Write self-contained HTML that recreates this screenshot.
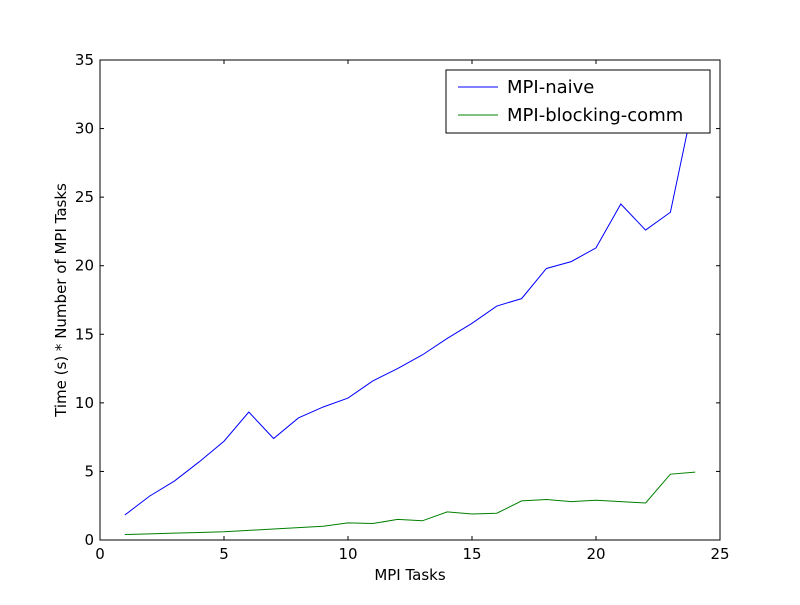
<!DOCTYPE html>
<html><head><meta charset="utf-8"><style>
body{margin:0;background:#fff;}
svg text{font-family:"DejaVu Sans","Liberation Sans",sans-serif;}
</style></head><body>
<svg id="chart" width="800" height="600" xmlns="http://www.w3.org/2000/svg">
<rect width="800" height="600" fill="#fff"/>
<g id="plot"></g>
</svg>
<script>
const xValues=[1,2,3,4,5,6,7,8,9,10,11,12,13,14,15,16,17,18,19,20,21,22,23,24];
const naiveValues=[1.82,3.2,4.3,5.7,7.2,9.33,7.4,8.9,9.7,10.35,11.6,12.5,13.5,14.7,15.8,17.06,17.6,19.8,20.3,21.3,24.5,22.6,23.9,32.5];
const blockingValues=[0.4,0.45,0.5,0.55,0.6,0.7,0.8,0.9,1.0,1.25,1.2,1.5,1.4,2.05,1.9,1.95,2.85,2.95,2.8,2.9,2.8,2.7,4.8,4.95];
const xTicks=[0,5,10,15,20,25];
const yTicks=[0,5,10,15,20,25,30,35];
const L=100,R=720,T=60,B=540;
const xs=v=>L+(v-0)/25*(R-L);
const ys=v=>B-(v-0)/35*(B-T);
const NS="http://www.w3.org/2000/svg";
const g=document.getElementById('plot');
function mk(tag,attrs,parent){const e=document.createElementNS(NS,tag);for(const k in attrs)e.setAttribute(k,attrs[k]);(parent||g).appendChild(e);return e;}
const defs=mk('defs',{});
const cp=mk('clipPath',{id:'clip'},defs);mk('rect',{x:L,y:T,width:R-L,height:B-T},cp);
function series(vals,color,name){
  const p=mk('polyline',{points:xValues.map((x,i)=>xs(x)+','+ys(vals[i])).join(' '),fill:'none',stroke:color,'stroke-width':1,'clip-path':'url(#clip)'});
  
  
}
series(naiveValues,'#0000ff','mpi-naive-line');
series(blockingValues,'#008000','mpi-blocking-comm-line');
const frame=mk('rect',{x:L,y:T,width:R-L,height:B-T,fill:'none',stroke:'#000','stroke-width':1});


xTicks.forEach(t=>{
  const x=xs(t);
  mk('line',{x1:x,y1:B,x2:x,y2:B-4,stroke:'#000'});
  mk('line',{x1:x,y1:T,x2:x,y2:T+4,stroke:'#000'});
  const tx=mk('text',{x:x,y:B+19,'text-anchor':'middle','font-size':15});tx.textContent=t;
  
  
});
yTicks.forEach(t=>{
  const y=ys(t);
  mk('line',{x1:L,y1:y,x2:L+4,y2:y,stroke:'#000'});
  mk('line',{x1:R,y1:y,x2:R-4,y2:y,stroke:'#000'});
  const tx=mk('text',{x:L-6,y:y+5,'text-anchor':'end','font-size':15});tx.textContent=t;
  
  
});
const xt=mk('text',{x:(L+R)/2,y:580,'text-anchor':'middle','font-size':15});xt.textContent='MPI Tasks';


const yt=mk('text',{x:66,y:300,'text-anchor':'middle','font-size':15,transform:'rotate(-90 66 300)'});yt.textContent='Time (s) * Number of MPI Tasks';


const lg=mk('g',{});


mk('rect',{x:446,y:70,width:264,height:63,fill:'#fff',stroke:'#000'},lg);
mk('line',{x1:458,y1:87,x2:498,y2:87,stroke:'#0000ff'},lg);
const l1=mk('text',{x:507,y:93,'font-size':18},lg);l1.textContent='MPI-naive';


mk('line',{x1:458,y1:115,x2:498,y2:115,stroke:'#008000'},lg);
const l2=mk('text',{x:507,y:121,'font-size':18},lg);l2.textContent='MPI-blocking-comm';


</script>
</body></html>
